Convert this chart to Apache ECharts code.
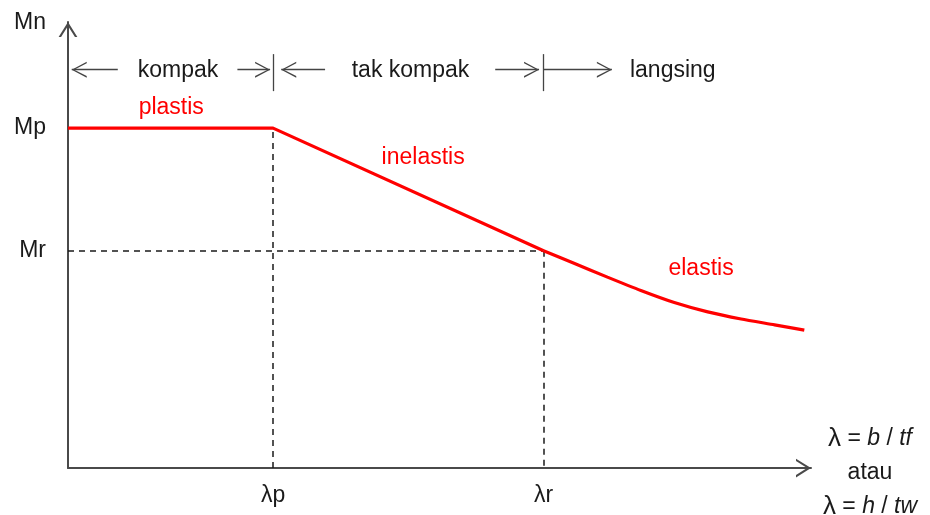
<!DOCTYPE html>
<html>
<head>
<meta charset="utf-8">
<script src="https://cdn.jsdelivr.net/npm/echarts@6/dist/echarts.min.js"></script>
<style>html,body{margin:0;padding:0;background:#fff;}#c{width:930px;height:515px;}</style>
</head>
<body>
<div id="c"></div>
<script>
// ---- data ----
const lambdaP = 2.76;
const lambdaR = 6.40;
const momentP = 7.62;
const momentR = 4.87;
const plasticInelasticX = [0, 2.76, 6.40];
const plasticInelasticY = [7.62, 7.62, 4.87];
const elasticX = [6.40, 6.81, 7.26, 7.71, 8.16, 8.61, 9.06, 9.51, 9.91];
const elasticY = [4.87, 4.59, 4.28, 3.98, 3.71, 3.50, 3.34, 3.21, 3.09];
const xTickValues = [2.76, 6.40];
const xTickLabels = ['λp', 'λr'];
const yTickValues = [4.87, 7.62];
const yTickLabels = ['Mr', 'Mp'];
const zoneNames = ['kompak', 'tak kompak', 'langsing'];
const zoneLabelX = [1.48, 4.61, 8.14];
const zoneRowY = 8.93;
const zoneArrowFrom = [0.67, 2.28, 3.46, 5.75, 6.40];
const zoneArrowTo = [0.05, 2.72, 2.87, 6.34, 7.32];
const zoneBarLow = 8.45;
const zoneBarHigh = 9.28;
const regimeNames = ['plastis', 'inelastis', 'elastis'];
const regimeLabelX = [1.39, 4.78, 8.52];
const regimeLabelY = [8.09, 6.95, 4.48];

// ---- helpers ----
function chevron(w, h, t) {
  return 'path://M' + (w / 2) + ',' + (-h) + ' L' + (w / 2) + ',' + (-h) + ' Z ' +
    'M0,' + h + ' L' + (w / 2) + ',0 L' + w + ',' + h + ' L' + (w - t) + ',' + h +
    ' L' + (w / 2) + ',' + (1.6 * t) + ' L' + t + ',' + h + ' Z';
}
const axisChevron = chevron(20, 16, 2.6);
const zoneChevron = chevron(16, 15, 1.6);
const FONT = '"Liberation Sans", Arial, sans-serif';
const FS = 23;

const toPairs = (xs, ys) => xs.map((x, i) => [x, ys[i]]);

const guideLines = [
  [{ coord: [lambdaP, 0] }, { coord: [lambdaP, momentP] }],
  [{ coord: [0, momentR] }, { coord: [lambdaR, momentR] }],
  [{ coord: [lambdaR, momentR] }, { coord: [lambdaR, 0] }]
];

const zoneLines = zoneArrowFrom.map((f, i) => [
  { coord: [f, zoneRowY], symbol: 'none' },
  { coord: [zoneArrowTo[i], zoneRowY], symbol: zoneChevron }
]).concat([lambdaP, lambdaR].map(x => [
  { coord: [x, zoneBarLow], symbol: 'none' },
  { coord: [x, zoneBarHigh], symbol: 'none' }
]));

const textData = zoneNames.map((n, i) => ({ name: n, value: [zoneLabelX[i], zoneRowY - 0.03], label: { color: '#1a1a1a' } }))
  .concat(regimeNames.map((n, i) => ({ name: n, value: [regimeLabelX[i], regimeLabelY[i]], label: { color: '#ff0000' } })));

const chart = echarts.init(document.getElementById('c'), null, { renderer: 'canvas' });
chart.setOption({
  animation: false,
  backgroundColor: '#fff',
  textStyle: { fontFamily: FONT },
  grid: { left: 68, right: 119, top: 22, bottom: 47, containLabel: false, outerBoundsMode: 'none' },
  xAxis: {
    type: 'value', min: 0, max: 10,
    splitLine: { show: false },
    axisTick: { show: false },
    axisLine: {
      lineStyle: { color: '#4a4a4a', width: 2 },
      symbol: ['none', axisChevron], symbolSize: [19, 30]
    },
    axisLabel: {
      customValues: xTickValues,
      formatter: v => xTickLabels[xTickValues.indexOf(v)] || '',
      fontSize: FS, color: '#1a1a1a', margin: 16, fontFamily: FONT
    },
    name: '{l|λ} = {i|b} / {i|tf}\n{n|atau}\n{l|λ} = {i|h} / {i|tw}',
    nameLocation: 'end',
    nameGap: 59,
    nameTextStyle: {
      align: 'center', verticalAlign: 'middle', fontSize: FS, lineHeight: 34, color: '#1a1a1a', fontFamily: FONT,
      padding: [10, 0, 0, 0],
      rich: {
        l: { fontSize: 26, fontFamily: FONT, color: '#1a1a1a', lineHeight: 34 },
        i: { fontSize: FS, fontStyle: 'italic', fontFamily: FONT, color: '#1a1a1a', lineHeight: 34 },
        n: { fontSize: FS, fontFamily: FONT, color: '#1a1a1a', lineHeight: 34 }
      }
    }
  },
  yAxis: {
    type: 'value', min: 0, max: 10,
    splitLine: { show: false },
    axisTick: { show: false },
    axisLine: {
      lineStyle: { color: '#4a4a4a', width: 2 },
      symbol: ['none', axisChevron], symbolSize: [19, 30]
    },
    axisLabel: {
      customValues: yTickValues,
      formatter: v => yTickLabels[yTickValues.indexOf(v)] || '',
      fontSize: FS, color: '#1a1a1a', margin: 22, fontFamily: FONT
    },
    name: 'Mn',
    nameLocation: 'end',
    nameGap: -1,
    nameTextStyle: { align: 'right', verticalAlign: 'middle', fontSize: FS, color: '#1a1a1a', padding: [0, 22, 0, 0], fontFamily: FONT }
  },
  series: [
    {
      type: 'line', name: 'plastis-inelastis', data: toPairs(plasticInelasticX, plasticInelasticY),
      showSymbol: false, silent: true,
      lineStyle: { color: '#ff0000', width: 3.2 }, z: 5
    },
    {
      type: 'line', name: 'elastis', data: toPairs(elasticX, elasticY), smooth: 0.2,
      showSymbol: false, silent: true,
      lineStyle: { color: '#ff0000', width: 3.2 }, z: 5
    },
    {
      type: 'line', name: 'guides', data: [], silent: true,
      markLine: {
        silent: true, animation: false, symbol: 'none',
        label: { show: false },
        lineStyle: { color: '#1a1a1a', width: 1.5, type: [6, 5] },
        data: guideLines
      },
      z: 3
    },
    {
      type: 'line', name: 'zones', data: [], silent: true,
      markLine: {
        silent: true, animation: false,
        symbolSize: [16, 30],
        label: { show: false },
        lineStyle: { color: '#444', width: 1.3, type: 'solid' },
        data: zoneLines
      }
    },
    {
      type: 'scatter', name: 'labels', data: textData, symbolSize: 0, silent: true,
      itemStyle: { color: 'transparent', opacity: 1 },
      label: { show: true, position: 'inside', formatter: '{b}', fontSize: FS, fontFamily: FONT, opacity: 1 }
    }
  ]
});
</script>
</body>
</html>
